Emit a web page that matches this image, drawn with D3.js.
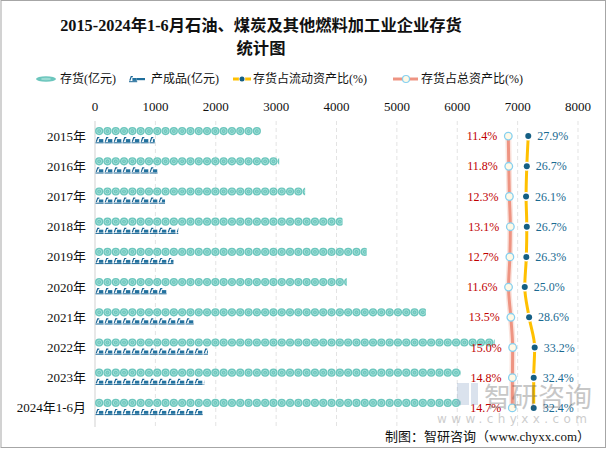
<!DOCTYPE html>
<html><head><meta charset="utf-8">
<script src="https://cdn.jsdelivr.net/npm/d3@7/dist/d3.min.js"></script>
<style>
body{margin:0;background:#fff;}
svg{display:block;}
</style></head>
<body>
<svg id="chart" width="607" height="449"></svg>
<script>
const categories = ["2015年","2016年","2017年","2018年","2019年","2020年","2021年","2022年","2023年","2024年1-6月"];
const inventory = [2750, 3050, 3480, 4100, 4500, 4170, 5480, 6620, 6060, 6060];
const finishedGoods = [990, 1040, 1160, 1380, 1300, 1190, 1640, 1870, 1810, 1790];
const currentRatio = [27.9, 26.7, 26.1, 26.7, 26.3, 25.0, 28.6, 33.2, 32.4, 32.4];
const totalRatio = [11.4, 11.8, 12.3, 13.1, 12.7, 11.6, 13.5, 15.0, 14.8, 14.7];
const xTicks = [0,1000,2000,3000,4000,5000,6000,7000,8000];
const legendLabels = ["存货(亿元)","产成品(亿元)","存货占流动资产比(%)","存货占总资产比(%)"];
const titleLines = ["2015-2024年1-6月石油、煤炭及其他燃料加工业企业存货","统计图"];
const sourceText = "制图：智研咨询（www.chyxx.com）";

const svg = d3.select("#chart");
const numFont = "'Liberation Serif','Noto Sans CJK SC',serif";
const cjkFont = "'Noto Sans CJK SC',sans-serif";

// frame
svg.append("rect").attr("x",1).attr("y",0.5).attr("width",604.5).attr("height",447)
  .attr("fill","#fff").attr("stroke","#A6A6A6").attr("stroke-width",1);

// title
svg.append("g").selectAll("text").data(titleLines).join("text")
  .attr("x",261).attr("y",(d,i)=>25+i*23).attr("text-anchor","middle")
  .attr("dominant-baseline","central")
  .attr("font-family","'Liberation Serif','Noto Sans CJK SC',serif").attr("font-weight","bold")
  .attr("font-size",16.3).attr("fill","#111").text(d=>d);

const x = d3.scaleLinear().domain([0,8000]).range([95,578]);
const y = d3.scaleBand().domain(categories).range([121,423]);
const px = d3.scaleLinear().domain([0,100]).range([494.5,615.5]);
const yc = c => y(c)+y.bandwidth()/2;

// grid
const grid = svg.append("g");
grid.selectAll("line").data(xTicks.slice(1)).join("line")
  .attr("x1",d=>x(d)).attr("x2",d=>x(d)).attr("y1",121).attr("y2",427)
  .attr("stroke","#E3E3E3").attr("stroke-dasharray","4,3");
svg.append("line").attr("x1",x(0)).attr("x2",x(0)).attr("y1",121).attr("y2",427)
  .attr("stroke","#D9D9D9").attr("stroke-width",1.2);

// top tick labels
svg.append("g").selectAll("text").data(xTicks).join("text")
  .attr("x",d=>x(d)).attr("y",106).attr("text-anchor","middle").attr("dominant-baseline","central")
  .attr("font-family",numFont).attr("font-size",13).attr("fill","#111").text(d=>d);

// category labels
svg.append("g").selectAll("text").data(categories).join("text")
  .attr("x",86).attr("y",d=>yc(d)).attr("text-anchor","end").attr("dominant-baseline","central")
  .attr("font-family",numFont).attr("font-size",13).attr("fill","#111").text(d=>d);

const defs = svg.append("defs");

// coin symbol
function coin(g, cx, cy){
  g.append("circle").attr("cx",cx).attr("cy",cy).attr("r",4.1).attr("fill","#6CC6BD");
  g.append("circle").attr("cx",cx).attr("cy",cy).attr("r",2.4).attr("fill","none").attr("stroke","#A6E1DA").attr("stroke-width",1);
  g.append("circle").attr("cx",cx).attr("cy",cy).attr("r",0.9).attr("fill","#8ED6CD");
}
function product(g, sx, cy){
  const s = g.append("g").attr("transform",`translate(${sx},${cy-3})`);
  s.append("path").attr("d","M0.8,4.6 L2.2,0.6 L3.8,0.6").attr("fill","none").attr("stroke","#1A6594").attr("stroke-width",1.2);
  s.append("rect").attr("x",3.4).attr("y",2.0).attr("width",4.4).attr("height",2.9).attr("fill","#23729F");
  s.append("line").attr("x1",0).attr("x2",8.2).attr("y1",5.7).attr("y2",5.7).attr("stroke","#1A6594").attr("stroke-width",1);
}

const barsG = svg.append("g");
categories.forEach((c,i)=>{
  const cy1 = yc(c)-5, cy2 = yc(c)+4;
  const w1 = x(inventory[i])-x(0), w2 = x(finishedGoods[i])-x(0);
  defs.append("clipPath").attr("id","ca"+i).append("rect")
    .attr("x",x(0)).attr("y",cy1-5).attr("width",w1).attr("height",10);
  defs.append("clipPath").attr("id","cb"+i).append("rect")
    .attr("x",x(0)).attr("y",cy2-4).attr("width",w2).attr("height",8);
  const ga = barsG.append("g").attr("clip-path",`url(#ca${i})`);
  const sym = 8.3;
  d3.range(Math.ceil(w1/sym)).forEach(k=>coin(ga, x(0)+sym*k+sym/2, cy1));
  const gb = barsG.append("g").attr("clip-path",`url(#cb${i})`);
  const sym2 = 9;
  d3.range(Math.ceil(w2/sym2)).forEach(k=>product(gb, x(0)+sym2*k+0.5, cy2));
});

// lines
const lineTotal = d3.line().x((d,i)=>px(d)).y((d,i)=>yc(categories[i])).curve(d3.curveMonotoneY);
svg.append("path").attr("d",lineTotal(totalRatio)).attr("fill","none")
  .attr("stroke","#F6D2C8").attr("stroke-width",6).attr("opacity",0.6);
svg.append("path").attr("d",lineTotal(totalRatio)).attr("fill","none")
  .attr("stroke","#EE9482").attr("stroke-width",3);
svg.append("path").attr("d",lineTotal(currentRatio)).attr("fill","none")
  .attr("stroke","#FFC000").attr("stroke-width",3);

svg.append("g").selectAll("circle").data(totalRatio).join("circle")
  .attr("cx",d=>px(d)).attr("cy",(d,i)=>yc(categories[i])).attr("r",3.8)
  .attr("fill","#FFF9E6").attr("stroke","#86D0F0").attr("stroke-width",1.3);
svg.append("g").selectAll("circle").data(currentRatio).join("circle")
  .attr("cx",d=>px(d)).attr("cy",(d,i)=>yc(categories[i])).attr("r",3)
  .attr("fill","#155F84").attr("stroke","#fff").attr("stroke-width",3).attr("paint-order","stroke");

svg.append("g").selectAll("text").data(totalRatio).join("text")
  .attr("x",d=>px(d)-11).attr("y",(d,i)=>yc(categories[i])).attr("text-anchor","end").attr("dominant-baseline","central")
  .attr("font-family",numFont).attr("font-size",12).attr("fill","#C00000").text(d=>d.toFixed(1)+"%");
svg.append("g").selectAll("text").data(currentRatio).join("text")
  .attr("x",d=>px(d)+9).attr("y",(d,i)=>yc(categories[i])).attr("text-anchor","start").attr("dominant-baseline","central")
  .attr("font-family",numFont).attr("font-size",12).attr("fill","#1A6A91").text(d=>d.toFixed(1)+"%");

// legend
const lg = svg.append("g");
const ly = 79;
lg.append("ellipse").attr("cx",46).attr("cy",ly).attr("rx",10).attr("ry",2.8).attr("fill","#6CC6BD");
lg.append("ellipse").attr("cx",46).attr("cy",ly).attr("rx",5).attr("ry",1.2).attr("fill","#9ADBD3");
product(lg, 129, ly);
lg.append("rect").attr("x",137).attr("y",ly-1).attr("width",8).attr("height",2.2).attr("fill","#1F6E9B");
lg.append("line").attr("x1",233).attr("x2",251).attr("y1",ly).attr("y2",ly).attr("stroke","#FFC000").attr("stroke-width",3);
lg.append("circle").attr("cx",242).attr("cy",ly).attr("r",2.5).attr("fill","#155F84").attr("stroke","#fff").attr("stroke-width",1.5).attr("paint-order","stroke");
lg.append("line").attr("x1",393).attr("x2",418).attr("y1",ly).attr("y2",ly).attr("stroke","#EE9482").attr("stroke-width",3);
lg.append("circle").attr("cx",406).attr("cy",ly).attr("r",3.5).attr("fill","#FFF9E6").attr("stroke","#86D0F0").attr("stroke-width",1.2);
const lx = [60,151,253,421];
lg.selectAll("text").data(legendLabels).join("text")
  .attr("x",(d,i)=>lx[i]).attr("y",ly).attr("dominant-baseline","central")
  .attr("font-family",numFont).attr("font-size",12).attr("fill","#111").text(d=>d);

// watermark
const wm = svg.append("g").attr("opacity",0.32);
wm.append("rect").attr("x",457).attr("y",383).attr("width",12).attr("height",22).attr("fill","#8FA6C8");
wm.append("rect").attr("x",471).attr("y",383).attr("width",7).attr("height",22).attr("fill","#8FA6C8");
wm.append("text").attr("x",484).attr("y",395).attr("dominant-baseline","central")
  .attr("font-family",cjkFont).attr("font-size",27).attr("fill","#555").text("智研咨询");
wm.append("text").attr("x",437).attr("y",419).attr("dominant-baseline","central")
  .attr("font-family","'DejaVu Sans',sans-serif").attr("font-size",12)
  .attr("textLength",150).attr("lengthAdjust","spacing").attr("fill","#666").text("www.chyxx.com");

// source
svg.append("text").attr("x",590).attr("y",436).attr("text-anchor","end").attr("dominant-baseline","central")
  .attr("font-family",numFont).attr("font-size",13).attr("fill","#111").text(sourceText);
</script>
</body></html>
